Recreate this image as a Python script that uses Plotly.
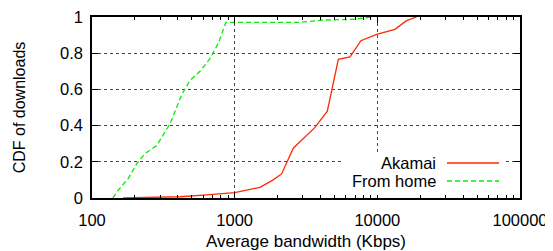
import plotly.graph_objects as go

# Data
akamai_x = [165, 414, 636, 1000, 1503, 1862, 2133, 2575, 3656, 4460, 5330, 6430, 7670, 9890, 13270, 16030, 18840]
akamai_y = [0.0, 0.007, 0.017, 0.03, 0.059, 0.1, 0.133, 0.275, 0.39, 0.48, 0.766, 0.78, 0.869, 0.904, 0.932, 0.98, 1.0]

home_x = [140, 153, 180, 206, 235, 284, 352, 425, 486, 571, 671, 768, 869, 2870, 4180, 6760, 9130]
home_y = [0.0, 0.044, 0.109, 0.19, 0.245, 0.29, 0.41, 0.57, 0.65, 0.70, 0.77, 0.855, 0.97, 0.97, 0.983, 0.987, 1.0]

series_names = ["Akamai", "From home"]
x_tickvals = [100, 1000, 10000, 100000]
x_ticktext = ["100", "1000", "10000", "100000"]
x_minor_vals = [m * d for d in (100, 1000, 10000) for m in range(2, 10)]
y_tickvals = [0, 0.2, 0.4, 0.6, 0.8, 1]
y_ticktext = ["0", "0.2", "0.4", "0.6", "0.8", "1"]

RED = "#ff2a00"
GREEN = "#00ee00"
FONT = "Liberation Sans"
FS = 16.5

fig = go.Figure()
fig.add_trace(go.Scatter(x=akamai_x, y=akamai_y, mode="lines", name=series_names[0],
                         line=dict(color=RED, width=1.3), showlegend=False))
fig.add_trace(go.Scatter(x=home_x, y=home_y, mode="lines", name=series_names[1],
                         line=dict(color=GREEN, width=1.3, dash="5px,3px"), showlegend=False))

# Custom legend (text right-aligned, sample on the right, as in gnuplot)
x0, x1 = (341 - 92) / 428, (505 - 92) / 428
y0, y1 = (198 - 195) / 181, (198 - 155) / 181
fig.add_shape(type="rect", xref="paper", yref="paper", x0=x0, x1=x1, y0=y0, y1=y1,
              fillcolor="white", line=dict(width=0), layer="above")
ly = [(198 - 163) / 181, (198 - 181) / 181]
colors = [RED, GREEN]
dashes = ["solid", "5px,3px"]
sx0, sx1 = (447 - 92) / 428, (499 - 92) / 428
tx = (438 - 92) / 428
for name, yy, c, d in zip(series_names, ly, colors, dashes):
    fig.add_annotation(text=name, xref="paper", yref="paper", x=tx, y=yy,
                       xanchor="right", yanchor="middle", showarrow=False,
                       font=dict(family=FONT, size=FS, color="black"))
    fig.add_shape(type="line", xref="paper", yref="paper", x0=sx0, x1=sx1, y0=yy, y1=yy,
                  line=dict(color=c, width=1.3, dash=d), layer="above")

axis_common = dict(
    showline=True, linecolor="black", linewidth=1.5, mirror="allticks",
    ticks="inside", ticklen=6, tickcolor="black", tickwidth=1,
    showgrid=True, gridcolor="#444444", griddash="dot", gridwidth=1,
    zeroline=False, tickfont=dict(family=FONT, size=FS, color="black"),
    automargin=False, ticklabeloverflow="allow",
)

fig.update_xaxes(type="log", range=[2, 5], tickvals=x_tickvals, ticktext=x_ticktext,
                 title=dict(text="Average bandwidth (Kbps)", font=dict(family=FONT, size=17, color="black"),
                            standoff=9),
                 minor=dict(ticks="inside", ticklen=3, tickcolor="black", showgrid=False,
                            tickmode="array", tickvals=x_minor_vals),
                 ticklabelstandoff=6,
                 **axis_common)
fig.update_yaxes(range=[0, 1], tickvals=y_tickvals, ticktext=y_ticktext,
                 title=dict(text="CDF of downloads", font=dict(family=FONT, size=16, color="black"),
                            standoff=30),
                 ticklabelstandoff=4,
                 **axis_common)

# The page body has an 8px margin: size the figure so the plot lands where the reference has it.
fig.update_layout(width=545, height=243, margin=dict(l=84, r=33, t=9, b=53),
                  plot_bgcolor="white", paper_bgcolor="white",
                  font=dict(family=FONT, size=FS, color="black"))

fig.write_html("out.html")
